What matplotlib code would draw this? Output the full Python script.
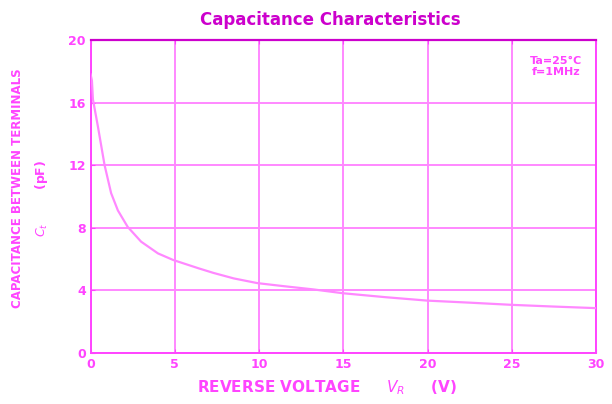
import numpy as np
import matplotlib.pyplot as plt

# reverse voltage (V) and capacitance (pF)
vr = [0.0, 0.08, 0.14, 0.43, 0.83, 1.22, 1.62, 2.2, 3.0, 4.0, 4.9, 6.4,
      7.3, 8.5, 9.9, 11.5, 13.2, 15.0, 17.5, 20.0, 22.5, 25.0, 27.5, 30.0]
ct = [17.8, 17.4, 16.2, 14.5, 12.0, 10.2, 9.1, 8.05, 7.1, 6.35, 5.93, 5.4,
      5.1, 4.75, 4.45, 4.25, 4.05, 3.8, 3.55, 3.33, 3.2, 3.06, 2.95, 2.85]

xticks = [0, 5, 10, 15, 20, 25, 30]
yticks = [0, 4, 8, 12, 16, 20]

light = '#ff88ff'
mid = '#ff44ff'
dark = '#cc00cc'

fig = plt.figure(figsize=(6.12, 4.04), dpi=100)
ax = fig.add_axes([0.148, 0.127, 0.826, 0.774])

ax.plot(vr, ct, color=light, lw=1.6, zorder=3)

ax.set_xlim(0, 30)
ax.set_ylim(0, 20)
ax.set_xticks(xticks)
ax.set_yticks(yticks)
ax.grid(True, color=light, lw=1.4)
ax.set_axisbelow(True)
ax.tick_params(colors=mid, labelcolor=mid, length=3, direction='in',
               top=True, labelsize=9)
for lab in ax.get_xticklabels() + ax.get_yticklabels():
    lab.set_fontweight('bold')

for side in ['left', 'bottom', 'right']:
    ax.spines[side].set_color(mid)
    ax.spines[side].set_linewidth(1.4)
ax.spines['top'].set_color(dark)
ax.spines['top'].set_linewidth(1.6)

ax.text(0.92, 0.95, 'Ta=25°C\nf=1MHz', transform=ax.transAxes,
        ha='center', va='top', color=mid, fontsize=8, fontweight='bold',
        bbox=dict(facecolor='white', edgecolor='none', pad=2))

fig.text(0.54, 0.95, 'Capacitance Characteristics', ha='center', va='center',
         color=dark, fontsize=12, fontweight='bold')

fig.text(0.535, 0.04, 'REVERSE VOLTAGE     $V_R$     (V)', ha='center',
         va='center', color=mid, fontsize=11, fontweight='bold')
fig.text(0.028, 0.535, 'CAPACITANCE BETWEEN TERMINALS', rotation=90,
         ha='center', va='center', color=mid, fontsize=8.5, fontweight='bold')
fig.text(0.068, 0.51, '$C_t$        (pF)', rotation=90,
         ha='center', va='center', color=mid, fontsize=9, fontweight='bold')

fig.savefig('out.png', dpi=100)
